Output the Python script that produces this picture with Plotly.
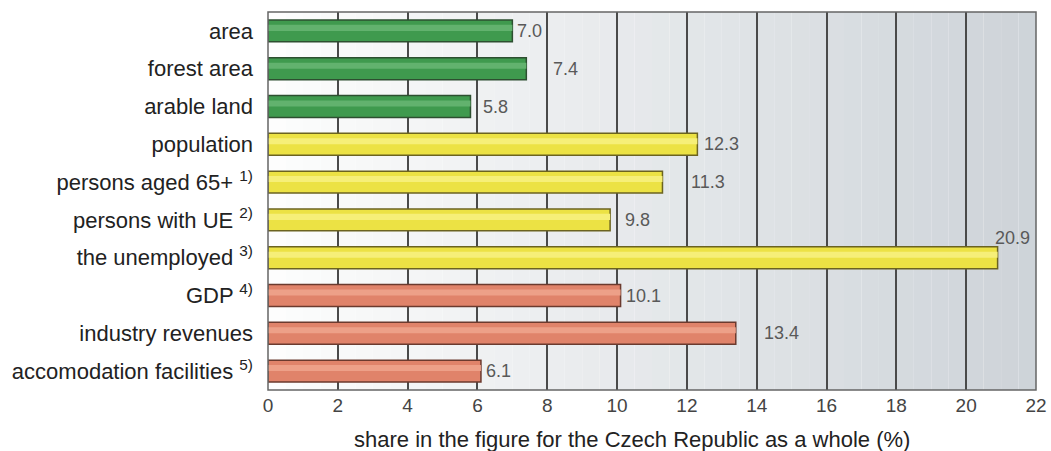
import plotly.graph_objects as go

categories = ["area", "forest area", "arable land", "population",
              "persons aged 65+ <sup>1)</sup>", "persons with UE <sup>2)</sup>",
              "the unemployed <sup>3)</sup>", "GDP <sup>4)</sup>",
              "industry revenues", "accomodation facilities <sup>5)</sup>"]
values = [7.0, 7.4, 5.8, 12.3, 11.3, 9.8, 20.9, 10.1, 13.4, 6.1]
groups = ["g", "g", "g", "y", "y", "y", "y", "r", "r", "r"]
tick_vals = [0, 2, 4, 6, 8, 10, 12, 14, 16, 18, 20, 22]
axis_title = "share in the figure for the Czech Republic as a whole (%)"

# label placement tweaks (pixels), as in the original layout
label_dx = [3, 25, 11, 5, 27, 13, -5, 3, 26, 3]
label_dy = [0, 0, 0, 0, 0, 0, 20, 0, 0, 0]

fill = {"g": "#3f9a4e", "y": "#ece244", "r": "#e0836a"}
light = {"g": "#62b26e", "y": "#f6ef78", "r": "#eda088"}
edge = {"g": "#2d4f30", "y": "#6b6320", "r": "#6b3a2e"}

fig = go.Figure()
fig.add_trace(go.Bar(
    y=categories, x=values, orientation="h",
    marker=dict(color=[fill[g] for g in groups],
                line=dict(color=[edge[g] for g in groups], width=1.5)),
    width=0.58, hoverinfo="skip"))
# highlight stripe for cylinder look
fig.add_trace(go.Bar(
    y=categories, x=values, orientation="h",
    marker=dict(color=[light[g] for g in groups], line=dict(width=0)),
    width=0.16, offset=-0.16, hoverinfo="skip"))

annotations = []
for cat, v, dx, dy in zip(categories, values, label_dx, label_dy):
    annotations.append(dict(x=v, y=cat, xref="x", yref="y", text=f"{v:.1f}",
                            showarrow=False, xanchor="left", yanchor="middle",
                            xshift=dx, yshift=dy,
                            font=dict(family="Liberation Sans, Arial", size=18,
                                      color="#595959")))
annotations.append(dict(x=0.474, y=0, xref="paper", yref="paper", text=axis_title,
                        showarrow=False, xanchor="center", yanchor="middle",
                        yshift=-49, font=dict(size=22, color="#222222")))

# gradient background
shapes = []
n = 44
for i in range(n):
    t = i / (n - 1)
    c0 = (253, 253, 253)
    c1 = (206, 212, 217)
    col = tuple(int(c0[k] + (c1[k] - c0[k]) * t) for k in range(3))
    shapes.append(dict(type="rect", xref="x domain", yref="y domain",
                       x0=i / n, x1=(i + 1) / n, y0=0, y1=1,
                       fillcolor=f"rgb{col}", line=dict(width=0), layer="below"))
shapes.append(dict(type="rect", xref="x domain", yref="y domain",
                   x0=0, x1=1, y0=0, y1=1,
                   line=dict(color="#666666", width=1.5), layer="above"))

fig.update_layout(
    width=1051, height=451,
    margin=dict(l=268, r=15, t=12, b=61),
    paper_bgcolor="white", plot_bgcolor="rgba(0,0,0,0)",
    barmode="overlay", showlegend=False, shapes=shapes, annotations=annotations,
    font=dict(family="Liberation Sans, Arial", color="#222222"),
)
fig.update_xaxes(range=[0, 22], tickvals=tick_vals, showgrid=True,
                 gridcolor="#4a4a4a", gridwidth=1.8, zeroline=False,
                 tickfont=dict(size=19, color="#444444"), ticklabelstandoff=2,
                 layer="below traces", showline=False, automargin=False)
fig.update_yaxes(autorange="reversed", tickfont=dict(size=22, color="#222222"),
                 ticks="", ticklabelstandoff=14, showgrid=False, automargin=False)

fig.write_html("out.html", config={"displayModeBar": False},
               post_script="document.body.style.margin='0';document.body.style.overflow='hidden';")
